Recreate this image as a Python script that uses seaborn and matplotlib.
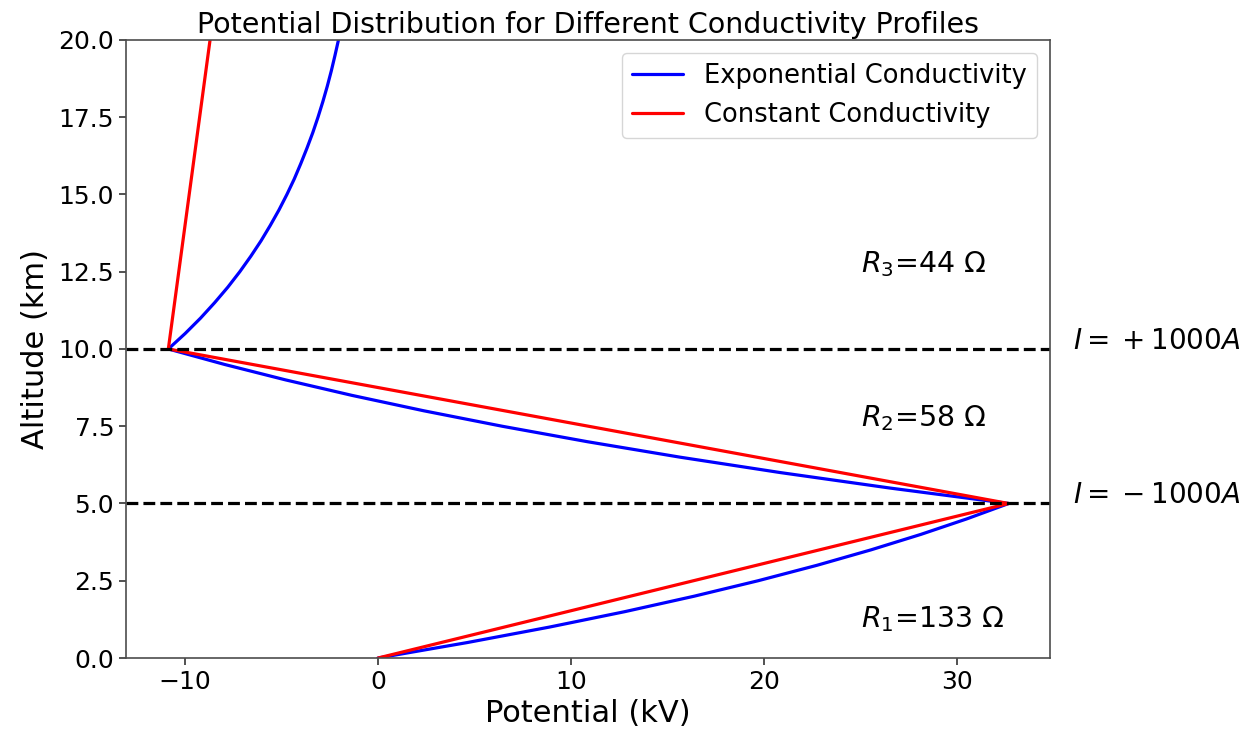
import matplotlib
matplotlib.use("Agg")
import matplotlib.pyplot as plt
import numpy as np
import pandas as pd
import seaborn as sns

# Altitude grid (km) and potential (kV) for the two conductivity profiles
altitude_km = [0.0, 0.5, 1.0, 1.5, 2.0, 2.5, 3.0, 3.5, 4.0, 4.5, 5.0,
               5.5, 6.0, 6.5, 7.0, 7.5, 8.0, 8.5, 9.0, 9.5, 10.0,
               10.5, 11.0, 11.5, 12.0, 12.5, 13.0, 13.5, 14.0, 14.5, 15.0,
               15.5, 16.0, 16.5, 17.0, 17.5, 18.0, 18.5, 19.0, 19.5, 20.0]
exp_potential_kv = [0.0, 4.62, 8.87, 12.78, 16.37, 19.68, 22.73, 25.53, 28.11, 30.48, 32.66,
                    26.51, 20.84, 15.63, 10.84, 6.43, 2.37, -1.36, -4.79, -7.95, -10.86,
                    -9.99, -9.19, -8.46, -7.78, -7.16, -6.59, -6.06, -5.58, -5.13, -4.72,
                    -4.34, -4.00, -3.68, -3.38, -3.11, -2.86, -2.63, -2.42, -2.23, -2.05]

const_altitude_km = [0.0, 5.0, 10.0, 20.0]
const_potential_kv = [0.0, 32.66, -10.86, -8.70]

series_names = ["Exponential Conductivity", "Constant Conductivity"]
series_colors = ["blue", "red"]

# Current sheets and layer resistances
current_levels_km = [10.0, 5.0]
current_labels = [r"$I=\:+\:1000A$", r"$I=\:-\:1000A$"]
resistance_levels_km = [12.5, 7.5, 1.0]
resistance_labels = [r"$R_3$=44 Ω", r"$R_2$=58 Ω", r"$R_1$=133 Ω"]

df = pd.concat([
    pd.DataFrame({"Potential": exp_potential_kv, "Altitude": altitude_km,
                  "Profile": series_names[0]}),
    pd.DataFrame({"Potential": const_potential_kv, "Altitude": const_altitude_km,
                  "Profile": series_names[1]}),
], ignore_index=True)

sns.set_style("ticks")
plt.rcParams["font.family"] = ["DejaVu Sans"]
plt.rcParams["mathtext.fontset"] = "dejavusans"
plt.rcParams["text.color"] = "black"
plt.rcParams["axes.labelcolor"] = "black"
plt.rcParams["xtick.color"] = "black"
plt.rcParams["ytick.color"] = "black"

fig = plt.figure(figsize=(12.53, 7.40), dpi=100)
ax = fig.add_axes([0.1006, 0.1108, 0.7374, 0.8352])

sns.lineplot(data=df, x="Potential", y="Altitude", hue="Profile",
             hue_order=series_names, palette=dict(zip(series_names, series_colors)),
             orient="y", estimator=None, sort=True, linewidth=2.3, ax=ax)

for lvl in current_levels_km:
    ax.axhline(lvl, color="black", linestyle="--", linewidth=2.3)

for lvl, lab in zip(current_levels_km, current_labels):
    ax.text(36.0, lvl, lab, fontsize=20, clip_on=False)

for lvl, lab in zip(resistance_levels_km, resistance_labels):
    ax.text(25.0, lvl, lab, fontsize=20.5)

ax.set_xlim(-13.05, 34.8)
ax.set_ylim(0, 20)
ax.set_yticks([0, 2.5, 5, 7.5, 10, 12.5, 15, 17.5, 20])
ax.set_xticks([-10, 0, 10, 20, 30])
ax.yaxis.set_major_formatter(matplotlib.ticker.FormatStrFormatter("%.1f"))
ax.tick_params(labelsize=18, length=5, width=1.2, color="0.2")
for sp in ax.spines.values():
    sp.set_color("0.3")
    sp.set_linewidth(1.2)

ax.set_xlabel("Potential (kV)", fontsize=22, labelpad=4)
ax.set_ylabel("Altitude (km)", fontsize=22, labelpad=6)
ax.set_title("Potential Distribution for Different Conductivity Profiles", fontsize=20.5, pad=5)
ax.legend(loc="upper right", fontsize=18.5, title=None)

fig.savefig("out.png", dpi=100)
